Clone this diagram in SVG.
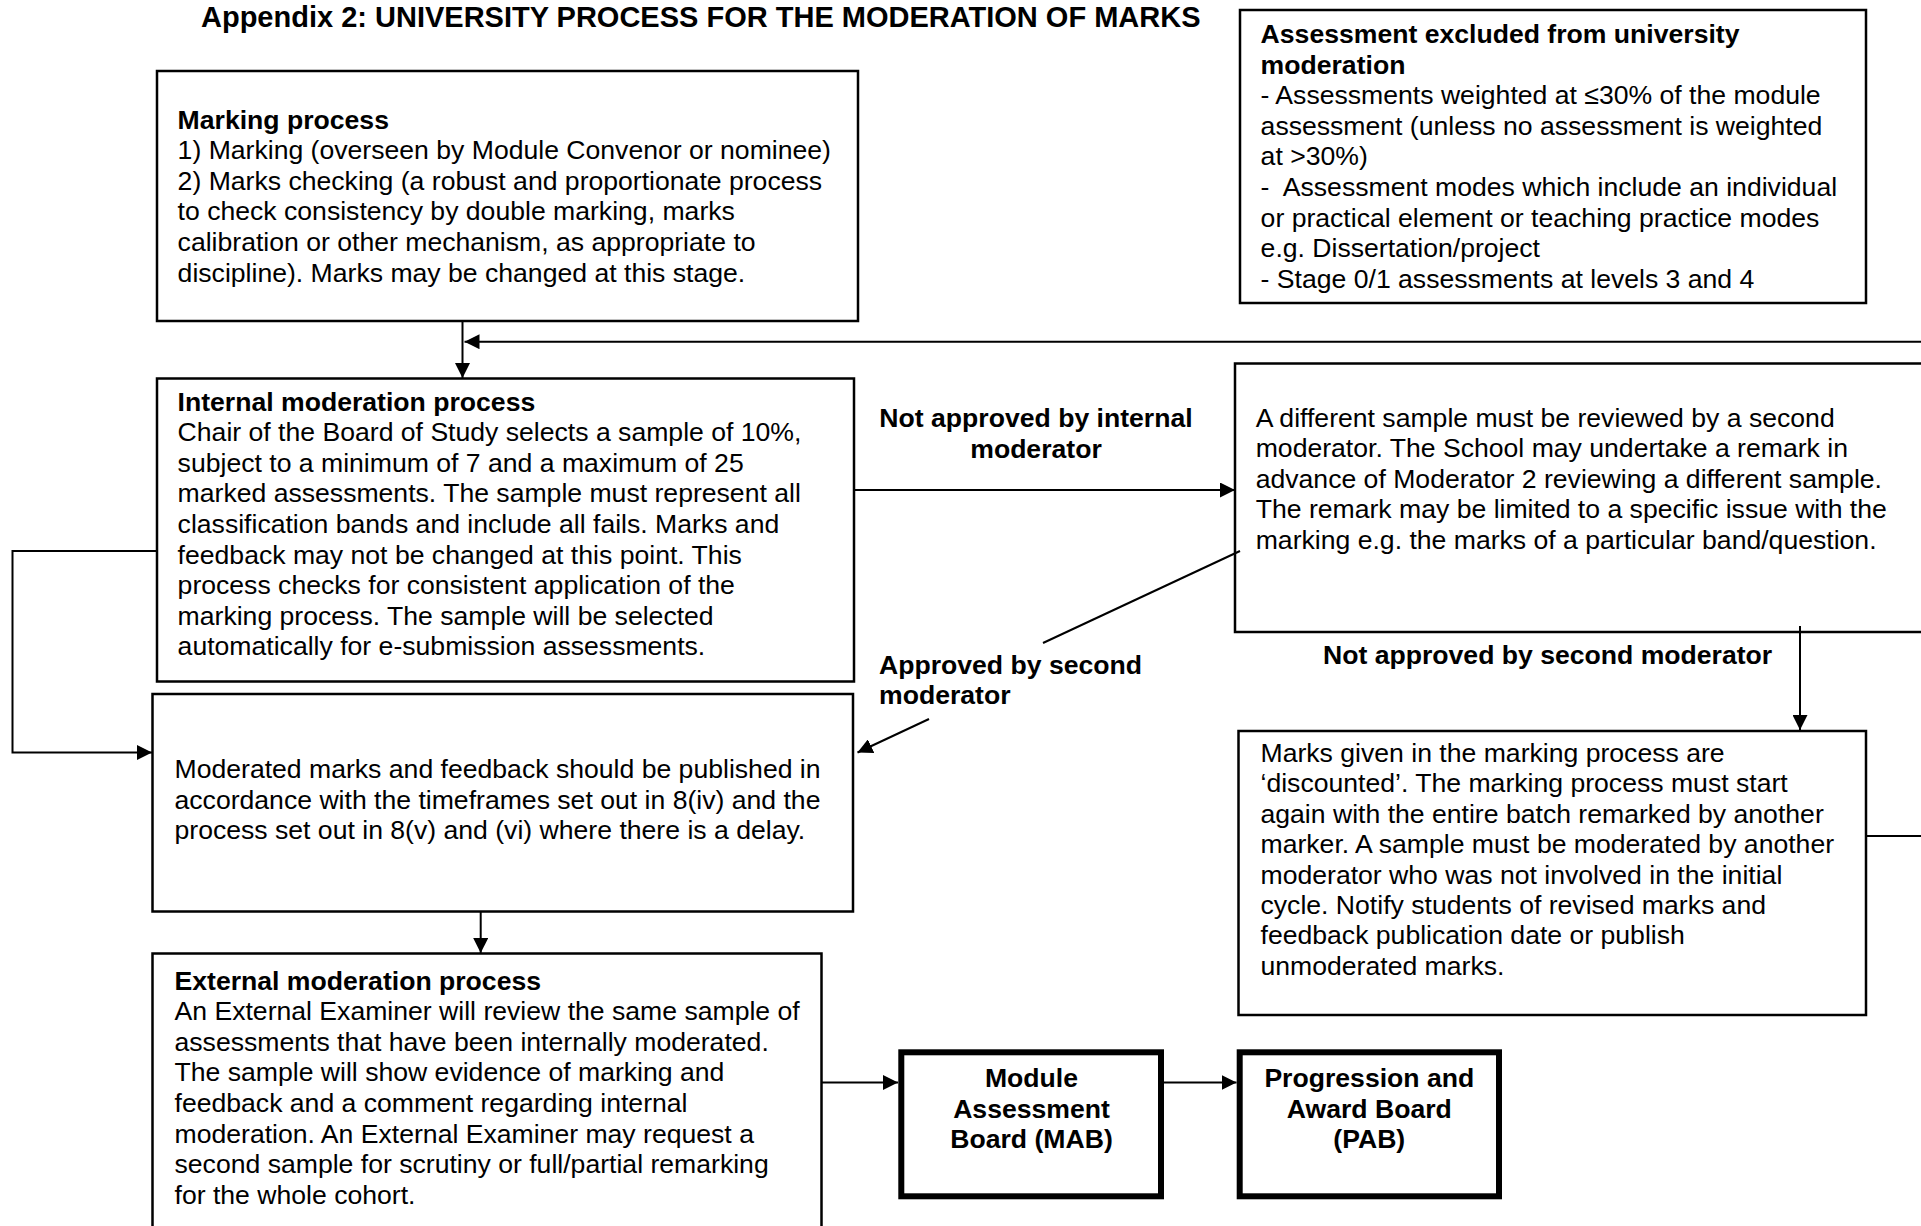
<svg xmlns="http://www.w3.org/2000/svg" width="1921" height="1226" viewBox="0 0 1921 1226">
<style>
text{font-family:"Liberation Sans",Arial,sans-serif;font-size:26.6px;fill:#000}
.b{font-weight:bold}
.t{font-weight:bold;font-size:29px}
.box{fill:#fff;stroke:#000;stroke-width:2.5}
.thick{fill:#fff;stroke:#000;stroke-width:6}
.c{fill:none;stroke:#000;stroke-width:2}
.m{text-anchor:middle}
</style>
<defs>
<marker id="arr" viewBox="0 0 15 15" refX="15" refY="7.5" markerWidth="15" markerHeight="15" markerUnits="userSpaceOnUse" orient="auto">
<path d="M0,0 L15,7.5 L0,15 z" fill="#000"/>
</marker>
</defs>
<rect width="1921" height="1226" fill="#fff"/>
<text class="t" x="201" y="27">Appendix 2: UNIVERSITY PROCESS FOR THE MODERATION OF MARKS</text>

<g id="marking">
<rect class="box" x="157" y="71" width="701" height="250"/>
<text x="177.6" y="128.6"><tspan class="b">Marking process</tspan><tspan x="177.6" dy="30.6">1) Marking (overseen by Module Convenor or nominee)</tspan><tspan x="177.6" dy="30.6">2) Marks checking (a robust and proportionate process</tspan><tspan x="177.6" dy="30.6">to check consistency by double marking, marks</tspan><tspan x="177.6" dy="30.6">calibration or other mechanism, as appropriate to</tspan><tspan x="177.6" dy="30.6">discipline). Marks may be changed at this stage.</tspan></text>
</g>

<g id="excluded">
<rect class="box" x="1240" y="10" width="626" height="293"/>
<text x="1260.6" y="43"><tspan class="b">Assessment excluded from university</tspan><tspan class="b" x="1260.6" dy="30.6">moderation</tspan><tspan x="1260.6" dy="30.6">- Assessments weighted at ≤30% of the module</tspan><tspan x="1260.6" dy="30.6">assessment (unless no assessment is weighted</tspan><tspan x="1260.6" dy="30.6">at &gt;30%)</tspan><tspan x="1260.6" dy="30.6" xml:space="preserve">-  Assessment modes which include an individual</tspan><tspan x="1260.6" dy="30.6">or practical element or teaching practice modes</tspan><tspan x="1260.6" dy="30.6">e.g. Dissertation/project</tspan><tspan x="1260.6" dy="30.6">- Stage 0/1 assessments at levels 3 and 4</tspan></text>
</g>

<g id="internal">
<rect class="box" x="157" y="378.5" width="697" height="303"/>
<text x="177.6" y="410.5"><tspan class="b">Internal moderation process</tspan><tspan x="177.6" dy="30.6">Chair of the Board of Study selects a sample of 10%,</tspan><tspan x="177.6" dy="30.6">subject to a minimum of 7 and a maximum of 25</tspan><tspan x="177.6" dy="30.6">marked assessments. The sample must represent all</tspan><tspan x="177.6" dy="30.6">classification bands and include all fails. Marks and</tspan><tspan x="177.6" dy="30.6">feedback may not be changed at this point. This</tspan><tspan x="177.6" dy="30.6">process checks for consistent application of the</tspan><tspan x="177.6" dy="30.6">marking process. The sample will be selected</tspan><tspan x="177.6" dy="30.6">automatically for e-submission assessments.</tspan></text>
</g>

<g id="second">
<rect class="box" x="1235" y="363.5" width="690" height="268.5"/>
<text x="1255.7" y="426.5"><tspan>A different sample must be reviewed by a second</tspan><tspan x="1255.7" dy="30.6">moderator. The School may undertake a remark in</tspan><tspan x="1255.7" dy="30.6">advance of Moderator 2 reviewing a different sample.</tspan><tspan x="1255.7" dy="30.6">The remark may be limited to a specific issue with the</tspan><tspan x="1255.7" dy="30.6">marking e.g. the marks of a particular band/question.</tspan></text>
</g>

<g id="moderated">
<rect class="box" x="152.5" y="694" width="700.5" height="217.5"/>
<text x="174.5" y="778"><tspan>Moderated marks and feedback should be published in</tspan><tspan x="174.5" dy="30.6">accordance with the timeframes set out in 8(iv) and the</tspan><tspan x="174.5" dy="30.6">process set out in 8(v) and (vi) where there is a delay.</tspan></text>
</g>

<g id="discounted">
<rect class="box" x="1238.5" y="731" width="627.5" height="284"/>
<text x="1260.5" y="762"><tspan>Marks given in the marking process are</tspan><tspan x="1260.5" dy="30.4">‘discounted’. The marking process must start</tspan><tspan x="1260.5" dy="30.4">again with the entire batch remarked by another</tspan><tspan x="1260.5" dy="30.4">marker. A sample must be moderated by another</tspan><tspan x="1260.5" dy="30.4">moderator who was not involved in the initial</tspan><tspan x="1260.5" dy="30.4">cycle. Notify students of revised marks and</tspan><tspan x="1260.5" dy="30.4">feedback publication date or publish</tspan><tspan x="1260.5" dy="30.4">unmoderated marks.</tspan></text>
</g>

<g id="external">
<rect class="box" x="152.5" y="953.5" width="669" height="300"/>
<text x="174.5" y="989.5"><tspan class="b">External moderation process</tspan><tspan x="174.5" dy="30.6">An External Examiner will review the same sample of</tspan><tspan x="174.5" dy="30.6">assessments that have been internally moderated.</tspan><tspan x="174.5" dy="30.6">The sample will show evidence of marking and</tspan><tspan x="174.5" dy="30.6">feedback and a comment regarding internal</tspan><tspan x="174.5" dy="30.6">moderation. An External Examiner may request a</tspan><tspan x="174.5" dy="30.6">second sample for scrutiny or full/partial remarking</tspan><tspan x="174.5" dy="30.6">for the whole cohort.</tspan></text>
</g>

<g id="mab">
<rect class="thick" x="901.3" y="1052.3" width="259.7" height="144"/>
<text class="b m" x="1031.5" y="1087"><tspan>Module</tspan><tspan x="1031.5" dy="30.6">Assessment</tspan><tspan x="1031.5" dy="30.6">Board (MAB)</tspan></text>
</g>

<g id="pab">
<rect class="thick" x="1239.7" y="1052.3" width="259.3" height="144"/>
<text class="b m" x="1369.3" y="1087"><tspan>Progression and</tspan><tspan x="1369.3" dy="30.6">Award Board</tspan><tspan x="1369.3" dy="30.6">(PAB)</tspan></text>
</g>

<g id="connectors">
<path class="c" d="M462.5,321 V378" marker-end="url(#arr)"/>
<path class="c" d="M1866,836 H1940 V341.7 H464.5" marker-end="url(#arr)"/>
<path class="c" d="M854,490 H1235" marker-end="url(#arr)"/>
<path class="c" d="M1240,551 L1043,643"/>
<path class="c" d="M929,719 L857.5,752.5" marker-end="url(#arr)"/>
<path class="c" d="M1800,626 V730" marker-end="url(#arr)"/>
<path class="c" d="M157,551 H12.5 V752.5 H152" marker-end="url(#arr)"/>
<path class="c" d="M480.7,912 V953" marker-end="url(#arr)"/>
<path class="c" d="M821.5,1082.5 H898" marker-end="url(#arr)"/>
<path class="c" d="M1164,1082.5 H1236.5" marker-end="url(#arr)"/>
<text class="b m" x="1036" y="427"><tspan>Not approved by internal</tspan><tspan x="1036" dy="30.6">moderator</tspan></text>
<text class="b" x="879" y="673.5"><tspan>Approved by second</tspan><tspan x="879" dy="30.6">moderator</tspan></text>
<text class="b" x="1323" y="664">Not approved by second moderator</text>
</g>
</svg>
